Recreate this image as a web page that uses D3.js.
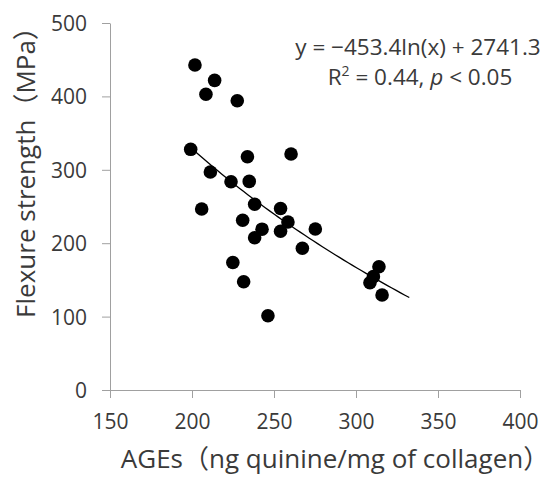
<!DOCTYPE html>
<html>
<head>
<meta charset="utf-8">
<script src="https://cdn.jsdelivr.net/npm/d3@7"></script>
<style>
body{margin:0;background:#fff;}
text{font-family:"Open Sans","Noto Sans CJK JP",sans-serif;fill:#3a3a3a;}
</style>
</head>
<body>
<div id="chart"></div>
<script>
// AGEs (x) vs flexure strength (y)
var agesValues = [201.8,213.8,208.5,227.6,199.2,233.8,260.4,211.2,223.8,234.9,
                  205.9,238.2,254.0,230.9,258.5,275.2,242.7,254.0,238.2,267.3,
                  224.9,231.5,246.3,314.0,310.6,308.5,315.9];
var strengthValues = [442.8,421.9,402.9,394.1,327.9,317.8,321.5,297.0,283.8,284.2,
                      246.6,253.1,247.3,231.2,228.9,219.3,219.1,216.3,207.5,193.1,
                      173.7,147.5,101.2,168.0,154.4,146.2,129.4];
var xTicks = [150,200,250,300,350,400];
var yTicks = [0,100,200,300,400,500];
// log trend as drawn: y = a*ln(x) + b, from xmin to xmax
var trendCoef = [-399, 2442.8];
var trendRange = [199.4, 332.5];
var eqText = "y = \u2212453.4ln(x) + 2741.3";

var W = 551, H = 479;
var svg = d3.select("#chart").append("svg")
    .attr("width",W)
    .attr("height",H);

var x = d3.scaleLinear().domain([150,400]).range([110,520]);
var y = d3.scaleLinear().domain([0,500]).range([390,23]);

var xAxis = svg.append("g")
    .attr("transform","translate(0,390)")
    .call(d3.axisBottom(x).tickValues(xTicks).tickSize(8).tickPadding(16).tickSizeOuter(0));
var yAxis = svg.append("g")
    .attr("transform","translate(110,0)")
    .call(d3.axisLeft(y).tickValues(yTicks).tickSize(8).tickPadding(15).tickSizeOuter(0));

[xAxis,yAxis].forEach(function(a){
    a.selectAll("path,line").attr("stroke","#a0a0a0").attr("stroke-width",1);
    a.selectAll("text").style("font-size","21px").attr("fill","#3a3a3a");
});
yAxis.selectAll("text").attr("dy","0.36em");

// points
var data = agesValues.map(function(v,i){ return {x:v, y:strengthValues[i]}; });
svg.append("g").selectAll("circle")
    .data(data)
    .enter()
    .append("circle")
    .attr("cx",function(d){ return x(d.x); })
    .attr("cy",function(d){ return y(d.y); })
    .attr("r",6.8)
    .style("fill","#000");

// trend line
var trend = d3.range(0,51).map(function(i){
    var xv = trendRange[0] + (trendRange[1]-trendRange[0])*i/50;
    return [xv, trendCoef[0]*Math.log(xv)+trendCoef[1]];
});
svg.append("path")
    .datum(trend)
    .attr("d",d3.line().x(function(d){ return x(d[0]); }).y(function(d){ return y(d[1]); }))
    .style("fill","none")
    .style("stroke","#000")
    .style("stroke-width",1.3);

// equation
svg.append("text")
    .attr("x",418).attr("y",55)
    .attr("text-anchor","middle")
    .style("font-size","22.5px")
    .text(eqText);
var r2 = svg.append("text")
    .attr("x",420).attr("y",85)
    .attr("text-anchor","middle")
    .style("font-size","22.5px");
r2.append("tspan").text("R");
r2.append("tspan").attr("dy",-9).style("font-size","14px").text("2");
r2.append("tspan").attr("dy",9).text(" = 0.44, ");
r2.append("tspan").style("font-style","italic").text("p");
r2.append("tspan").text(" < 0.05");

// axis titles
svg.append("text")
    .attr("transform","translate(35,166) rotate(-90)")
    .attr("text-anchor","middle")
    .style("font-size","26px")
    .text("Flexure strength\uFF08MPa\uFF09");
svg.append("text")
    .attr("x",335).attr("y",468)
    .attr("text-anchor","middle")
    .style("font-size","26px")
    .text("AGEs\uFF08ng quinine/mg of collagen\uFF09");
</script>
</body>
</html>
